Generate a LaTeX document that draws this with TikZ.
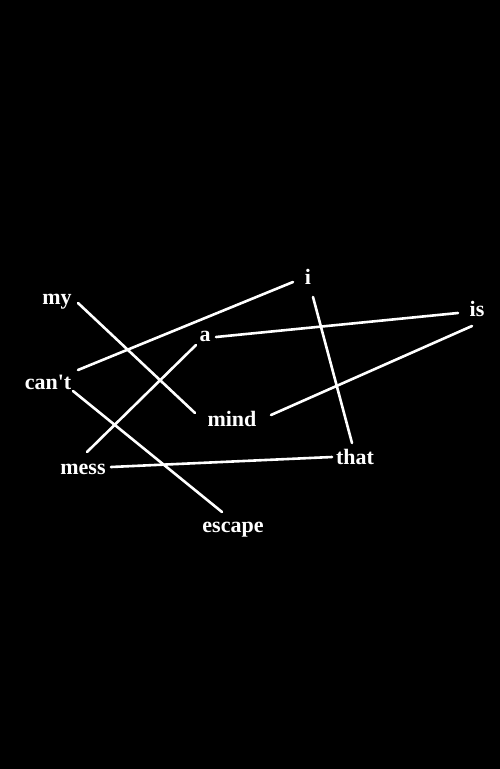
\documentclass[tikz,border=0pt]{standalone}
\usepackage{fontspec}
\setmainfont{Liberation Serif}
\begin{document}
\begin{tikzpicture}[x=1pt,y=-1pt,
  word/.style={text=white,inner sep=0pt,anchor=base,font=\fontsize{22}{26}\selectfont\bfseries},
  link/.style={draw=white,line width=2.6pt,line cap=round}]
\fill[black] (0,0) rectangle (500,769);
\useasboundingbox (0,0) rectangle (500,769);
% words
\node[word] (my) at (57,304) {my};
\node[word] (i) at (308,284) {i};
\node[word] (is) at (477,316) {is};
\node[word] (a) at (205,341) {a};
\node[word] (cant) at (48,389) {can\textquotesingle t};
\node[word] (mind) at (232,426) {mind};
\node[word] (mess) at (83,474) {mess};
\node[word] (that) at (355,464) {that};
\node[word] (escape) at (233,532) {escape};
% line ends
\coordinate (my-o) at (78,303);
\coordinate (mind-w) at (195,413);
\coordinate (cant-ne) at (78,370);
\coordinate (i-w) at (293,282);
\coordinate (a-e) at (216,337);
\coordinate (is-w) at (458,313);
\coordinate (a-sw) at (196,345);
\coordinate (mess-ne) at (87,452);
\coordinate (cant-se) at (73,391);
\coordinate (escape-n) at (222,512);
\coordinate (i-s) at (313,297);
\coordinate (that-n) at (352,443);
\coordinate (is-sw) at (472,326);
\coordinate (mind-e) at (271,415);
\coordinate (mess-e) at (111,467);
\coordinate (that-w) at (332,457);
% connectors
\draw[link] (my-o) -- (mind-w);
\draw[link] (cant-ne) -- (i-w);
\draw[link] (a-e) -- (is-w);
\draw[link] (a-sw) -- (mess-ne);
\draw[link] (cant-se) -- (escape-n);
\draw[link] (i-s) -- (that-n);
\draw[link] (is-sw) -- (mind-e);
\draw[link] (mess-e) -- (that-w);
\end{tikzpicture}
\end{document}
